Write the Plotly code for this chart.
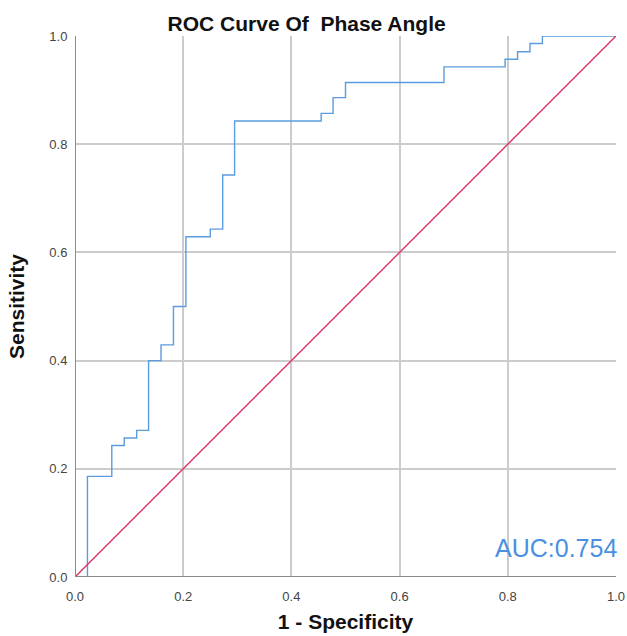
import plotly.graph_objects as go

# ROC step curve vertices (1 - specificity, sensitivity)
fpr = [0.0, 0.023, 0.068, 0.091, 0.114, 0.136, 0.159, 0.182, 0.205, 0.250, 0.273,
       0.295, 0.455, 0.477, 0.500, 0.682, 0.795, 0.818, 0.841, 0.864, 1.0]
tpr = [0.0, 0.186, 0.243, 0.257, 0.271, 0.400, 0.429, 0.500, 0.629, 0.643, 0.743,
       0.843, 0.857, 0.886, 0.914, 0.943, 0.957, 0.971, 0.986, 1.0, 1.0]

ref_x = [0.0, 1.0]
ref_y = [0.0, 1.0]

tick_vals = [0.0, 0.2, 0.4, 0.6, 0.8, 1.0]
tick_text = ["0.0", "0.2", "0.4", "0.6", "0.8", "1.0"]

title_text = "ROC Curve Of  Phase Angle"
auc_text = "AUC:0.754"

FONT = "Liberation Sans, Arial, sans-serif"

fig = go.Figure()
fig.add_trace(go.Scatter(x=fpr, y=tpr, mode="lines", line_shape="hv",
                         line=dict(color="#5b9be0", width=1.4), showlegend=False))
fig.add_trace(go.Scatter(x=ref_x, y=ref_y, mode="lines",
                         line=dict(color="#e0325e", width=1.4), showlegend=False))

axis_common = dict(range=[0, 1], tickvals=tick_vals, ticktext=tick_text,
                   showgrid=True, gridcolor="#cccccc", gridwidth=2,
                   zeroline=False, showline=False, automargin=False,
                   tickfont=dict(family=FONT, size=13, color="#444444"),
                   ticks="outside", tickcolor="rgba(0,0,0,0)", fixedrange=True)

fig.update_layout(
    width=627, height=636, autosize=False,
    margin=dict(l=75, r=11, t=36, b=59),
    paper_bgcolor="white", plot_bgcolor="white",
    title=dict(text="<b>" + title_text + "</b>", xref="container", x=0.489,
               xanchor="center", yref="container", y=0.963, yanchor="middle",
               font=dict(family=FONT, size=21, color="#111111")),
    xaxis=dict(**axis_common, ticklen=7,
               title=dict(text="<b>1 - Specificity</b>", standoff=11,
                          font=dict(family=FONT, size=21, color="#111111"))),
    yaxis=dict(**axis_common, ticklen=4,
               title=dict(text="<b>Sensitivity</b>", standoff=18,
                          font=dict(family=FONT, size=21, color="#111111"))),
    annotations=[dict(text=auc_text, xref="x", yref="y", x=1.0, y=0.054,
                      xanchor="right", yanchor="middle", showarrow=False, xshift=3,
                      font=dict(family=FONT, size=25, color="#4a8fe0"))],
    shapes=[
        dict(type="line", xref="x", yref="y", x0=0, x1=0, y0=0, y1=1,
             line=dict(color="#8a8a8a", width=2), layer="above"),
        dict(type="line", xref="x", yref="y", x0=0, x1=1, y0=0, y1=0,
             line=dict(color="#8a8a8a", width=2), layer="above"),
    ],
)

fig.write_html(
    "out.html",
    config={"responsive": False, "displayModeBar": False},
    post_script="document.body.style.margin='0';document.body.style.overflow='hidden';",
)
